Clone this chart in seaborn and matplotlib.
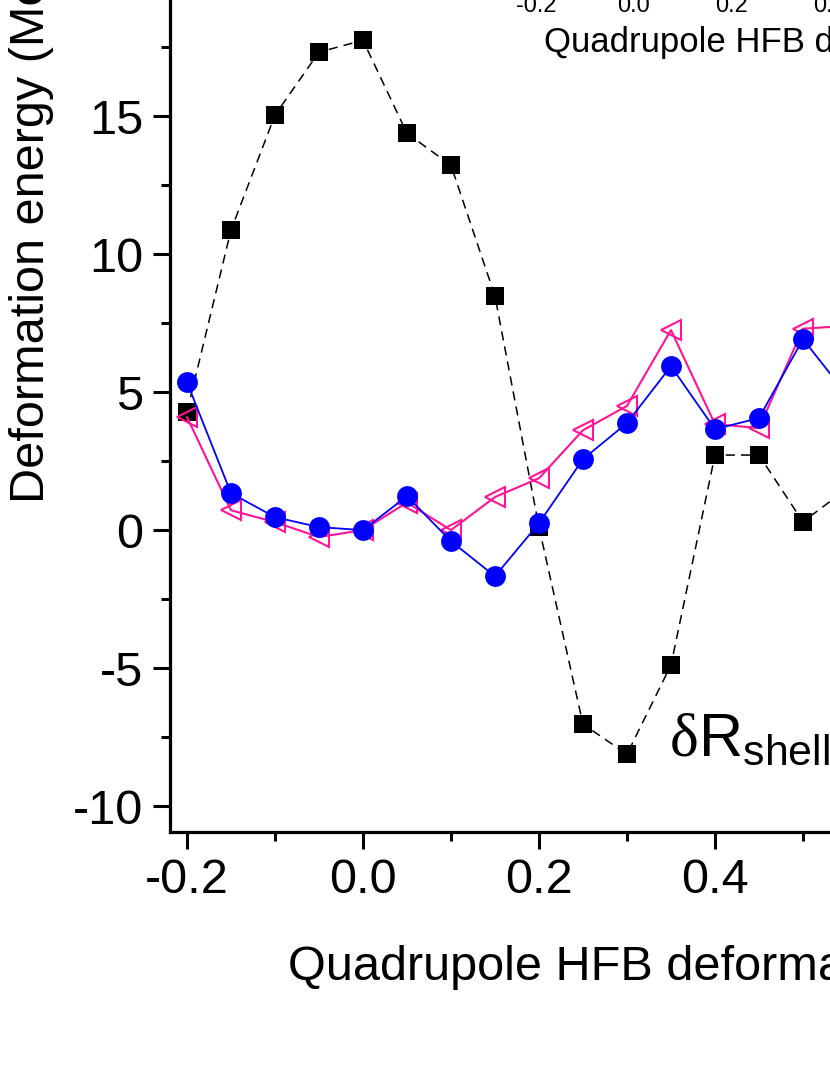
import numpy as np
import pandas as pd
import matplotlib
matplotlib.use("Agg")
import matplotlib.pyplot as plt
from matplotlib.ticker import MultipleLocator, FormatStrFormatter
import seaborn as sns

# ---- data ----
beta = [-0.20, -0.15, -0.10, -0.05, 0.00, 0.05, 0.10, 0.15, 0.20, 0.25, 0.30, 0.35, 0.40, 0.45, 0.50, 0.55]
shell_corr = [4.28, 10.87, 15.04, 17.32, 17.75, 14.38, 13.22, 8.48, 0.11, -7.03, -8.12, -4.89, 2.72, 2.72, 0.30, 1.5]
def_energy_a = [5.36, 1.34, 0.47, 0.11, 0.0, 1.23, -0.40, -1.67, 0.25, 2.57, 3.88, 5.94, 3.66, 4.06, 6.92, 4.9]
def_energy_b = [4.10, 0.72, 0.29, -0.25, 0.0, 1.00, 0.00, 1.20, 1.88, 3.62, 4.50, 7.25, 3.84, 3.70, 7.30, 7.4]
inset_ticks = [-0.2, 0.0, 0.2, 0.4, 0.6]

df = pd.DataFrame({"beta": beta, "shell": shell_corr, "a": def_energy_a, "b": def_energy_b})

sns.set_style("ticks")
plt.rcParams["font.family"] = ["Liberation Sans", "DejaVu Sans"]
plt.rcParams["axes.unicode_minus"] = False
plt.rcParams["mathtext.fontset"] = "custom"
plt.rcParams["mathtext.rm"] = "Liberation Sans"
plt.rcParams["mathtext.it"] = "Liberation Sans:italic"
for k in ["text.color", "axes.labelcolor", "xtick.color", "ytick.color", "axes.edgecolor"]:
    plt.rcParams[k] = "black"

fig = plt.figure(figsize=(8.3, 10.75), dpi=100)
ax = fig.add_axes([0.2048, 0.2260, 1.0489, 1.146])

sns.lineplot(data=df, x="beta", y="shell", ax=ax, color="black", linewidth=1.1,
             linestyle=(0, (6, 4)), marker="s", markersize=13.5,
             markerfacecolor="black", markeredgecolor="black", markeredgewidth=0, sort=False)
sns.lineplot(data=df, x="beta", y="b", ax=ax, color="#FF1493", linewidth=1.5,
             marker="<", markersize=15, markerfacecolor="none",
             markeredgecolor="#FF1493", markeredgewidth=1.5, sort=False)
sns.lineplot(data=df, x="beta", y="a", ax=ax, color="#0000FF", linewidth=1.3,
             marker="o", markersize=15, markerfacecolor="#0000FF",
             markeredgecolor="#0000FF", markeredgewidth=0, sort=False)

ax.set_xlim(-0.2193, 0.77)
ax.set_ylim(-10.94, 33.7)
ax.xaxis.set_major_locator(MultipleLocator(0.2))
ax.xaxis.set_minor_locator(MultipleLocator(0.1))
ax.yaxis.set_major_locator(MultipleLocator(5))
ax.yaxis.set_minor_locator(MultipleLocator(2.5))
ax.xaxis.set_major_formatter(FormatStrFormatter("%.1f"))
ax.yaxis.set_major_formatter(FormatStrFormatter("%d"))
for s in ax.spines.values():
    s.set_linewidth(2.3)
ax.tick_params(which="major", direction="out", length=12, width=2.2, labelsize=35, pad=7)
ax.tick_params(which="minor", direction="out", length=6.5, width=2.2)
ax.set_xlabel("Quadrupole HFB deformation", fontsize=35, labelpad=30)
ax.set_ylabel("Deformation energy (MeV)", fontsize=35, labelpad=14)

ax.text(0.349, -8.15, "δ", family=["Liberation Serif", "DejaVu Serif"], fontsize=44, va="baseline", ha="left")
ax.text(0.381, -8.15, r"R$_{\mathregular{shell}}$", fontsize=44, va="baseline", ha="left")

# inset (mostly outside the visible area)
axin = fig.add_axes([0.6145, 1.0167, 0.629, 0.2])
axin.set_xlim(-0.253, 0.814)
axin.set_xticks(inset_ticks)
axin.xaxis.set_major_formatter(FormatStrFormatter("%.1f"))
axin.set_yticks([])
axin.tick_params(axis="x", labelsize=17, length=6, width=1.5, pad=3)
axin.set_xlabel("Quadrupole HFB deformation", fontsize=25, labelpad=7)

fig.savefig("out.png", dpi=100)
